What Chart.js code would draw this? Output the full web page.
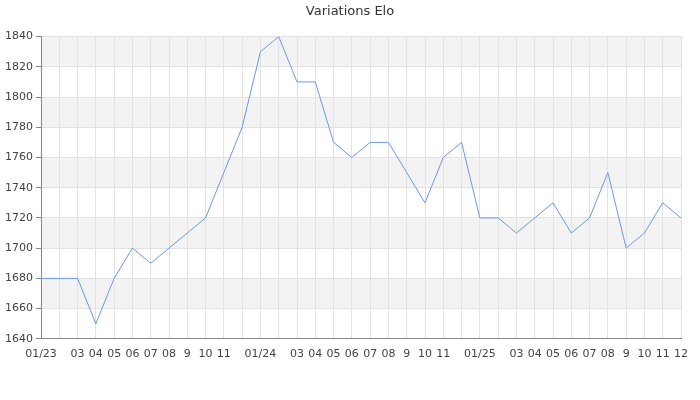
<!DOCTYPE html>
<html><head><meta charset="utf-8">
<script src="https://cdn.jsdelivr.net/npm/chart.js@4"></script>
<style>html,body{margin:0;padding:0;background:#fff}#wrap{width:700px;height:400px}</style>
</head><body><div id="wrap"><canvas id="c" width="700" height="400"></canvas></div>
<script>
const months = [
 '2023-01','2023-02','2023-03','2023-04','2023-05','2023-06','2023-07','2023-08','2023-09','2023-10','2023-11','2023-12',
 '2024-01','2024-02','2024-03','2024-04','2024-05','2024-06','2024-07','2024-08','2024-09','2024-10','2024-11','2024-12',
 '2025-01','2025-02','2025-03','2025-04','2025-05','2025-06','2025-07','2025-08','2025-09','2025-10','2025-11','2025-12'];
const tickLabels = [
 '01/23','','03','04','05','06','07','08','9','10','11','',
 '01/24','','03','04','05','06','07','08','9','10','11','',
 '01/25','','03','04','05','06','07','08','9','10','11','12'];
const elo = [
 1680,1680,1680,1650,1680,1700,1690,1700,1710,1720,1750,1780,
 1830,1840,1810,1810,1770,1760,1770,1770,1750,1730,1760,1770,
 1720,1720,1710,1720,1730,1710,1720,1750,1700,1710,1730,1720];
const grayBands = [[1820,1840],[1780,1800],[1740,1760],[1700,1720],[1660,1680]];

const bandPlugin = {
  id:'bands',
  beforeDraw(chart){
    const {ctx, chartArea:a, scales:{y}} = chart;
    ctx.save();
    ctx.fillStyle = '#f3f3f3';
    grayBands.forEach(([lo,hi])=>{
      const t = y.getPixelForValue(hi), b = y.getPixelForValue(lo);
      ctx.fillRect(a.left, t, a.right-a.left, b-t);
    });
    ctx.restore();
  }
};

new Chart(document.getElementById('c'), {
  type:'line',
  data:{labels:months, datasets:[{data:elo, borderColor:'#6a98f0', borderWidth:1, pointRadius:0, tension:0, fill:false, yAxisID:'y'}]},
  plugins:[bandPlugin],
  options:{
    responsive:false, animation:false,
    layout:{padding:{left:0,right:0,top:0,bottom:30}},
    plugins:{
      legend:{display:false}, tooltip:{enabled:false},
      title:{display:true, text:'Variations Elo', color:'#333', font:{family:'DejaVu Sans', size:13, weight:'normal'}, padding:{top:4,bottom:17}}
    },
    scales:{
      x:{
        grid:{color:'#e2e2e2', drawTicks:false},
        border:{color:'#888'},
        ticks:{autoSkip:false, maxRotation:0, padding:9, color:'#444', font:{family:'DejaVu Sans', size:11},
          callback:(v,i)=>tickLabels[i]}
      },
      y:{
        min:1640, max:1840,
        afterFit(s){ s.width = 41; },
        grid:{color:(c)=> (c.tick && c.tick.value%20===0) ? '#e2e2e2' : 'rgba(0,0,0,0)', tickColor:'#888', tickLength:5},
        border:{color:'#888'},
        ticks:{stepSize:10, padding:3, color:'#444', font:{family:'DejaVu Sans', size:11},
          callback:(v)=> v%20===0 ? String(v) : ''}
      },
      yr:{
        position:'right', min:1640, max:1840,
        afterFit(s){ s.width = 19; },
        grid:{display:false, drawTicks:false},
        border:{display:false},
        ticks:{display:false}
      }
    }
  }
});
</script></body></html>
